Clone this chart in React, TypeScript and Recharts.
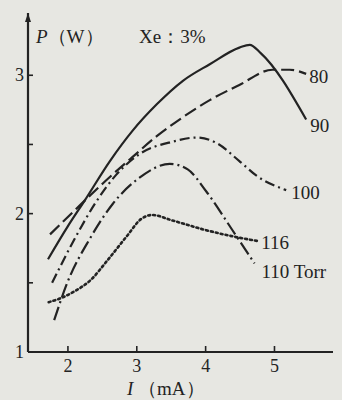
import { Label, Line, LineChart, XAxis, YAxis } from "recharts";

const INK = "#232323";
const PAPER = "#e7e7e2";
const SERIF = "'Liberation Serif', 'DejaVu Serif', serif";

const currentTicks = [2, 3, 4, 5];
const powerTicks = [1, 1.5, 2, 2.5, 3];

// I (mA), P (W)
const torr80 = [
  { i: 1.74, p: 1.85 },
  { i: 2.07, p: 2.01 },
  { i: 2.51, p: 2.22 },
  { i: 2.94, p: 2.41 },
  { i: 3.29, p: 2.56 },
  { i: 3.62, p: 2.68 },
  { i: 4.06, p: 2.82 },
  { i: 4.49, p: 2.93 },
  { i: 4.97, p: 3.04 },
  { i: 5.22, p: 3.04 },
  { i: 5.46, p: 3.01 },
];

const torr90 = [
  { i: 1.71, p: 1.67 },
  { i: 2.0, p: 1.91 },
  { i: 2.25, p: 2.1 },
  { i: 2.61, p: 2.38 },
  { i: 2.94, p: 2.6 },
  { i: 3.29, p: 2.79 },
  { i: 3.67, p: 2.96 },
  { i: 4.06, p: 3.08 },
  { i: 4.49, p: 3.2 },
  { i: 4.64, p: 3.22 },
  { i: 4.8, p: 3.16 },
  { i: 5.46, p: 2.68 },
];

const torr100 = [
  { i: 1.77, p: 1.5 },
  { i: 2.1, p: 1.82 },
  { i: 2.39, p: 2.07 },
  { i: 2.7, p: 2.28 },
  { i: 3.04, p: 2.43 },
  { i: 3.52, p: 2.52 },
  { i: 3.87, p: 2.55 },
  { i: 4.16, p: 2.51 },
  { i: 4.49, p: 2.38 },
  { i: 4.75, p: 2.27 },
  { i: 5.17, p: 2.17 },
];

const torr110 = [
  { i: 1.8, p: 1.23 },
  { i: 1.99, p: 1.5 },
  { i: 2.32, p: 1.82 },
  { i: 2.65, p: 2.07 },
  { i: 3.04, p: 2.26 },
  { i: 3.48, p: 2.36 },
  { i: 3.74, p: 2.32 },
  { i: 4.01, p: 2.16 },
  { i: 4.39, p: 1.88 },
  { i: 4.71, p: 1.64 },
];

const torr116 = [
  { i: 1.72, p: 1.36 },
  { i: 1.9, p: 1.39 },
  { i: 2.1, p: 1.44 },
  { i: 2.33, p: 1.52 },
  { i: 2.57, p: 1.66 },
  { i: 2.86, p: 1.84 },
  { i: 3.06, p: 1.96 },
  { i: 3.22, p: 1.99 },
  { i: 3.52, p: 1.95 },
  { i: 4.01, p: 1.88 },
  { i: 4.45, p: 1.83 },
  { i: 4.78, p: 1.8 },
];

const series = [
  { name: "80", data: torr80, dash: "13 5", dx: 3, dy: 9 },
  { name: "90", data: torr90, dash: undefined, dx: 4, dy: 12 },
  { name: "100", data: torr100, dash: "10 4 2 4", dx: 5, dy: 9 },
  { name: "110 Torr", data: torr110, dash: "14 4 2 4", dx: 7, dy: 15 },
  { name: "116", data: torr116, dash: "2 3", dx: 2, dy: 8 },
];

function PowerTick(props: any) {
  const { x, y, payload } = props;
  const whole = Number.isInteger(payload.value);
  return (
    <g>
      <line x1={x} x2={x + 5} y1={y} y2={y} stroke={INK} strokeWidth={1.6} />
      {whole && (
        <text x={x - 4} y={y + 6} textAnchor="end" fill={INK} fontSize={18} fontFamily={SERIF}>
          {payload.value}
        </text>
      )}
    </g>
  );
}

function CurrentTick(props: any) {
  const { x, y, payload } = props;
  return (
    <g>
      <line x1={x} x2={x} y1={y} y2={y - 6} stroke={INK} strokeWidth={1.6} />
      <text x={x} y={y + 20} textAnchor="middle" fill={INK} fontSize={18} fontFamily={SERIF}>
        {payload.value}
      </text>
    </g>
  );
}

function endLabel(name: string, count: number, dx: number, dy: number) {
  return (props: any) => {
    if (props.index !== count - 1) return <g />;
    return (
      <text x={props.x + dx} y={props.y + dy} fill={INK} fontSize={19} fontFamily={SERIF}>
        {name}
      </text>
    );
  };
}

export default function App() {
  return (
    <div style={{ position: "absolute", left: 0, top: 0, width: 342, height: 400, background: PAPER }}>
      <LineChart width={342} height={400} margin={{ top: 13, right: 9, bottom: 0, left: 0 }}>
        <XAxis
          dataKey="i"
          type="number"
          domain={[1.42, 5.85]}
          ticks={currentTicks}
          interval={0}
          height={48}
          tickSize={0}
          tickMargin={0}
          tickLine={false}
          tick={<CurrentTick />}
          axisLine={{ stroke: INK, strokeWidth: 2.2 }}
          allowDataOverflow
        >
          <Label
            content={(p: any) => (
              <text x={p.viewBox.x + 99} y={p.viewBox.y + 43} fill={INK} fontSize={19} fontFamily={SERIF}>
                <tspan fontStyle="italic">I</tspan> （mA）
              </text>
            )}
          />
        </XAxis>
        <YAxis
          dataKey="p"
          type="number"
          domain={[1, 3.45]}
          ticks={powerTicks}
          interval={0}
          width={28}
          tickSize={0}
          tickMargin={0}
          tickLine={false}
          tick={<PowerTick />}
          axisLine={{ stroke: INK, strokeWidth: 2.2 }}
          allowDataOverflow
        >
          <Label
            content={(p: any) => (
              <g fill={INK} fontFamily={SERIF} fontSize={19}>
                <path
                  d={`M${p.viewBox.x + 28} ${p.viewBox.y} l-3 9 h6 z`}
                  fill={INK}
                />
                <text x={p.viewBox.x + 36} y={p.viewBox.y + 30}>
                  <tspan fontStyle="italic">P</tspan>（W）
                </text>
                <text x={p.viewBox.x + 139} y={p.viewBox.y + 30}>
                  Xe：3%
                </text>
              </g>
            )}
          />
        </YAxis>
        {series.map((s) => (
          <Line
            key={s.name}
            data={s.data}
            dataKey="p"
            type="monotone"
            stroke={INK}
            strokeWidth={s.dash === "2 3" ? 2.6 : 2.2}
            strokeDasharray={s.dash}
            strokeLinecap={s.dash === "2 3" ? "round" : "butt"}
            dot={false}
            activeDot={false}
            isAnimationActive={false}
            label={endLabel(s.name, s.data.length, s.dx, s.dy)}
          />
        ))}
      </LineChart>
    </div>
  );
}
